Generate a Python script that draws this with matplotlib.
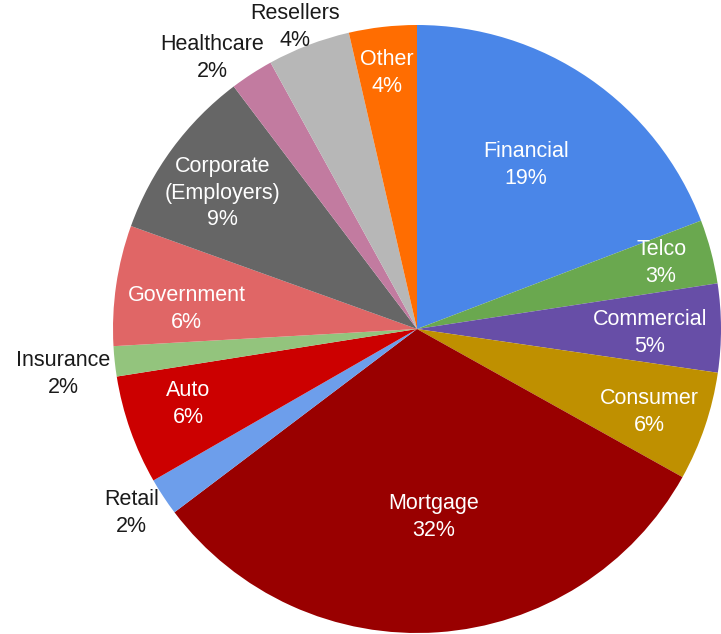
import matplotlib.pyplot as plt
import numpy as np

plt.rcParams['font.family'] = ['Liberation Sans', 'DejaVu Sans']

# 各行業佔比 (%)，從 12 點鐘方向順時針排列
sectors = ['Financial', 'Telco', 'Commercial', 'Consumer', 'Mortgage', 'Retail',
           'Auto', 'Insurance', 'Government', 'Corporate\n(Employers)',
           'Healthcare', 'Resellers', 'Other']
shares = [19.2, 3.4, 4.7, 5.8, 31.6, 2.0, 5.8, 1.6, 6.4, 9.2, 2.3, 4.4, 3.6]

colors = ['#4a86e8', '#6aa84f', '#674ea7', '#bf9000', '#990000', '#6d9eeb',
          '#cc0000', '#93c47d', '#e06666', '#666666', '#c27ba0', '#b7b7b7',
          '#ff6d01']

# 標籤位置 (以半徑為 1 的座標)；小扇區的標籤放在圓外、用黑字
label_pos = {
    'Financial': (0.359, 0.539), 'Telco': (0.803, 0.217),
    'Commercial': (0.766, -0.013), 'Consumer': (0.766, -0.273),
    'Mortgage': (0.056, -0.618), 'Retail': (-0.94, -0.605),
    'Auto': (-0.753, -0.247), 'Insurance': (-1.164, -0.148),
    'Government': (-0.757, 0.066), 'Corporate': (-0.641, 0.447),
    'Healthcare': (-0.674, 0.891), 'Resellers': (-0.40, 0.993),
    'Other': (-0.099, 0.842),
}
outside = ['Retail', 'Insurance', 'Healthcare', 'Resellers']

fig = plt.figure(figsize=(7.21, 6.34), dpi=100)
ax = fig.add_axes([113 / 721, 1 / 634, 608 / 721, 608 / 634])

wedges, _ = ax.pie(shares, colors=colors, startangle=90, counterclock=False,
                   radius=1.0, wedgeprops={'linewidth': 0})

for name, pct in zip(sectors, shares):
    key = name.split('\n')[0]
    x, y = label_pos[key]
    color = '#1a1a1a' if key in outside else 'white'
    ax.text(x, y, f'{name}\n{pct:.0f}%', ha='center', va='center',
            fontsize=15.5, color=color, linespacing=1.36)

ax.set_xlim(-1.0, 1.0)
ax.set_ylim(-1.0, 1.0)
ax.set_aspect('equal')
ax.axis('off')

fig.savefig('out.png', dpi=100)
